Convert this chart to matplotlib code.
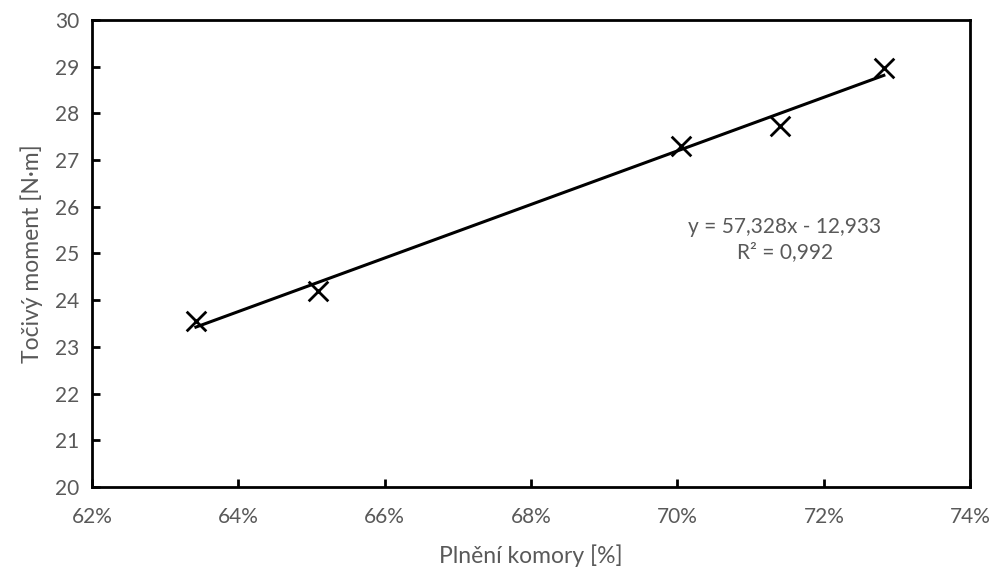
import numpy as np
import matplotlib.pyplot as plt
from matplotlib.ticker import FuncFormatter

plt.rcParams['font.family'] = ['Lato', 'DejaVu Sans']

# data
plneni = [0.6342, 0.6509, 0.7005, 0.7140, 0.7282]
moment = [23.55, 24.20, 27.30, 27.72, 28.98]
# trend line coefficients shown in the chart
k = 57.328
q = -12.933
r2 = 0.992

grey = '#595959'

fig = plt.figure(figsize=(9.89, 5.69), dpi=100)
ax = fig.add_axes([0.093, 0.144, 0.888, 0.821])

xs = np.array([min(plneni), max(plneni)])
ax.plot(xs, k * xs + q, color='black', lw=2.2, zorder=2)
ax.scatter(plneni, moment, marker='x', s=200, c='black', linewidths=2, zorder=3)

ax.set_xlim(0.62, 0.74)
ax.set_ylim(20, 30)
ax.set_xticks(np.arange(0.62, 0.7401, 0.02))
ax.set_yticks(np.arange(20, 30.1, 1))
ax.xaxis.set_major_formatter(FuncFormatter(lambda v, p: '{:.0f}%'.format(v * 100)))

for s in ax.spines.values():
    s.set_linewidth(2)
    s.set_color('black')
ax.tick_params(direction='in', length=6, width=2, colors='black',
               labelcolor=grey, labelsize=15)
ax.tick_params(axis='x', pad=14)
ax.tick_params(axis='y', pad=9)

ax.set_xlabel('Plnění komory [%]', fontsize=16.5, color=grey, labelpad=13)
ax.set_ylabel('Točivý moment [N·m]', fontsize=16.5, color=grey, labelpad=9)

eq = 'y = {:.3f}x - {:.3f}'.format(k, -q).replace('.', ',')
eq += '\nR² = {:.3f}'.format(r2).replace('.', ',')
ax.text(0.7147, 25.3, eq, fontsize=15, color=grey, ha='center', va='center',
        linespacing=1.35)

fig.savefig('out.png')
